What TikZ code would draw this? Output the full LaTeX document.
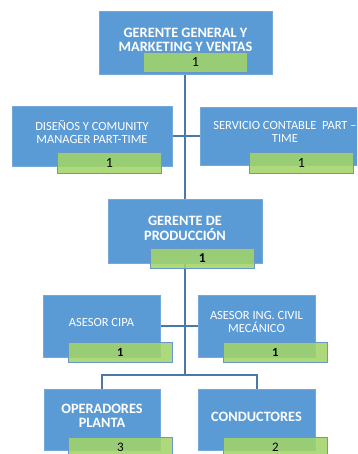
\documentclass[tikz,border=0pt]{standalone}
\usepackage{fontspec}
\setmainfont{Carlito}
\usetikzlibrary{calc,backgrounds}
\definecolor{boxblue}{HTML}{5B9BD5}
\definecolor{cntgreen}{HTML}{A2D468}
\definecolor{cntedge}{HTML}{6A97C9}
\definecolor{linkblue}{HTML}{4A78A8}
\begin{document}
\begin{tikzpicture}[x=1pt,y=-1pt,
  unit/.style={fill=boxblue, draw=boxblue!85!white, line width=0.4pt,
    inner sep=0pt, anchor=north west, minimum width=#1},
  unit/.default=160pt,
  title/.style={text=white, align=center, inner sep=0pt,
    font=\fontsize{14.3}{14.3}\selectfont\bfseries},
  plain/.style={text=white, align=center, inner sep=0pt,
    font=\fontsize{12.5}{12.5}\selectfont},
  count/.style={fill=cntgreen, fill opacity=0.88, text opacity=1,
    draw=cntedge, line width=0.6pt, inner sep=0pt, anchor=north west,
    minimum width=104pt, minimum height=20pt,
    font=\fontsize{14}{14}\selectfont},
  link/.style={draw=linkblue, line width=1.6pt}]
\useasboundingbox (0,0) rectangle (357,454);
\clip (0,0) rectangle (357,454);

% top management
\node[unit=173pt, minimum height=63pt] (gg) at (99,11) {};
\node[title] (ggt) at (185.5,40) {GERENTE GENERAL Y\\MARKETING Y VENTAS};
\node[count] (ggn) at (143,52) {1};

% part-time support
\node[unit=160pt, minimum height=60pt] (dc) at (12,106) {};
\node[plain] (dct) at (92,132) {DISEÑOS Y COMUNITY\\MANAGER PART-TIME};
\node[count, minimum height=21pt] (dcn) at (57,152) {1};

\node[unit=170pt, minimum height=58pt] (sc) at (200,107) {};
\node[plain] (sct) at (285,132) {SERVICIO CONTABLE\ \ PART –\\TIME};
\node[count, minimum height=21pt] (scn) at (249,152) {1};

% production
\node[unit=154pt, minimum height=64pt] (gp) at (108,199) {};
\node[title] (gpt) at (185,228.5) {GERENTE DE\\PRODUCCIÓN};
\node[count, font=\fontsize{13.5}{13.5}\selectfont\bfseries] (gpn) at (150,248) {1};

% advisors
\node[unit=117pt, minimum height=62pt] (ac) at (43,295) {};
\node[plain] (act) at (101.5,322) {ASESOR CIPA};
\node[count, font=\fontsize{12.5}{12.5}\selectfont\bfseries] (acn) at (68,342) {1};

\node[unit=117pt, minimum height=62pt] (ai) at (198,295) {};
\node[plain] (ait) at (256.5,322) {ASESOR ING. CIVIL\\MECÁNICO};
\node[count, font=\fontsize{12.5}{12.5}\selectfont\bfseries] (ain) at (223,342) {1};

% staff
\node[unit=116pt, minimum height=61pt] (op) at (44,389) {};
\node[title] (opt) at (102,415.5) {OPERADORES\\PLANTA};
\node[count, font=\fontsize{13}{13}\selectfont] (opn) at (68,437) {3};

\node[unit=117pt, minimum height=61pt] (cd) at (198,389) {};
\node[title] (cdt) at (256.5,417) {CONDUCTORES};
\node[count, font=\fontsize{13}{13}\selectfont] (cdn) at (223,437) {2};

\coordinate (split) at (185,375);

% reporting lines
\begin{scope}[on background layer]
  \draw[link] (gg.south -| split) -- (gp.north -| split);
  \draw[link] (dc.east) -- (dc.east -| sc.west);
  \draw[link] (gp.south -| split) -- (split);
  \draw[link] (ac.east) -- (ac.east -| ai.west);
  \draw[link] (op.north) |- (split) -| (cd.north);
\end{scope}
\end{tikzpicture}
\end{document}
